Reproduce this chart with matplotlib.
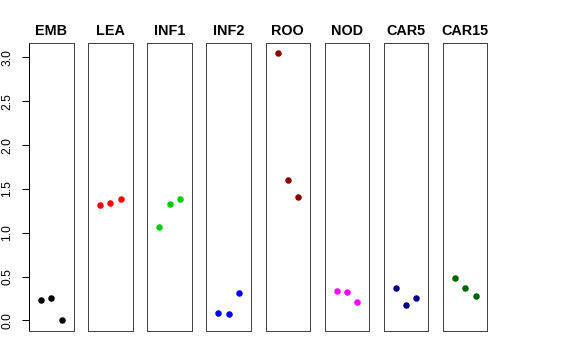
import matplotlib
matplotlib.use("Agg")
import matplotlib.pyplot as plt

plt.rcParams['font.family'] = ['Liberation Sans', 'DejaVu Sans']

panels = ["EMB", "LEA", "INF1", "INF2", "ROO", "NOD", "CAR5", "CAR15"]
colors = ["#000000", "#FF0000", "#00CD00", "#0000FF", "#8B0000", "#FF00FF", "#00008B", "#006400"]
emb = [0.232, 0.251, 0.0]
lea = [1.314, 1.337, 1.383]
inf1 = [1.07, 1.333, 1.39]
inf2 = [0.08, 0.076, 0.309]
roo = [3.047, 1.596, 1.413]
nod = [0.335, 0.32, 0.209]
car5 = [0.369, 0.178, 0.251]
car15 = [0.487, 0.366, 0.278]
series = [emb, lea, inf1, inf2, roo, nod, car5, car15]
positions = [1, 2, 3]
yticks = [0.0, 0.5, 1.0, 1.5, 2.0, 2.5, 3.0]

W, H = 576, 360
fig = plt.figure(figsize=(W / 72, H / 72), dpi=72)

left0, step, pw = 29.0, 59.14, 44.5
top, bottom = 43.3, 331.0
ymin, ymax = -0.1216, 3.1616

for i, (name, vals, col) in enumerate(zip(panels, series, colors)):
    l = left0 + i * step
    ax = fig.add_axes([l / W, 1 - bottom / H, pw / W, (bottom - top) / H])
    ax.plot(positions, vals, 'o', color=col, markersize=6.5, markeredgewidth=0, linestyle='none')
    ax.set_xlim(-0.16, 4.16)
    ax.set_ylim(ymin, ymax)
    ax.set_xticks([])
    for s in ax.spines.values():
        s.set_color('#444444')
        s.set_linewidth(1)
    ax.set_title(name, fontsize=14.4, fontweight='bold', pad=8.5)
    if i == 0:
        ax.set_yticks(yticks)
        ax.set_yticklabels([f"{t:.1f}" for t in yticks], rotation=90, va='center', fontsize=12)
        ax.tick_params(axis='y', length=7.5, width=1, pad=8, color='black')
        ax.spines['left'].set_color('black')
    else:
        ax.set_yticks([])

fig.savefig("out.png", dpi=72)
